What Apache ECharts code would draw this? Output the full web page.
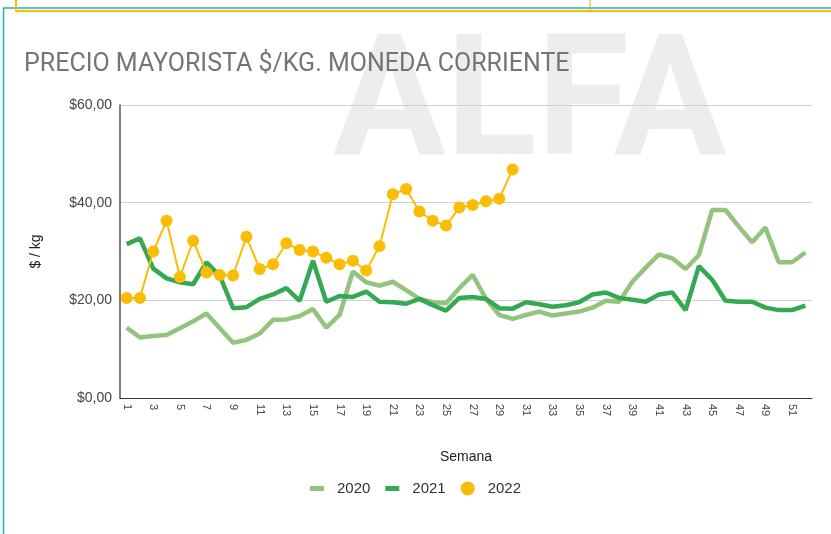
<!DOCTYPE html>
<html>
<head>
<meta charset="utf-8">
<script src="https://cdn.jsdelivr.net/npm/echarts@6/dist/echarts.min.js"></script>
<style>
  html, body { margin: 0; padding: 0; background: #fff; }
  #chart { width: 831px; height: 534px; }
</style>
</head>
<body>
<div id="chart"></div>
<script>
// semanas 1..52
const semanas = [];
for (let i = 1; i <= 52; i++) semanas.push(String(i));

const precio2020 = [14.4, 12.4, 12.7, 12.9, 14.3, 15.7, 17.3, 14.3, 11.3, 11.9,
  13.2, 16.0, 16.1, 16.8, 18.2, 14.4, 17.0, 25.9, 23.7, 23.0,
  23.8, 22.1, 20.3, 19.6, 19.4, 22.5, 25.2, 20.3, 17.0, 16.2,
  17.0, 17.7, 16.9, 17.3, 17.7, 18.5, 19.9, 19.7, 23.8, 26.7,
  29.4, 28.6, 26.4, 29.3, 38.5, 38.5, 35.1, 31.9, 34.9, 27.8,
  27.8, 29.8];

const precio2021 = [31.5, 32.7, 26.5, 24.5, 23.7, 23.3, 27.8, 25.0, 18.4, 18.6,
  20.3, 21.2, 22.5, 19.9, 28.1, 19.7, 20.9, 20.7, 21.8, 19.7,
  19.6, 19.3, 20.3, 19.0, 17.9, 20.5, 20.7, 20.3, 18.4, 18.3,
  19.6, 19.2, 18.7, 19.0, 19.6, 21.2, 21.6, 20.5, 20.1, 19.7,
  21.2, 21.6, 18.0, 27.0, 24.2, 19.9, 19.7, 19.7, 18.5, 18.0,
  18.0, 18.9];

const precio2022 = [20.5, 20.5, 30.0, 36.3, 24.8, 32.2, 25.7, 25.2, 25.1, 33.0,
  26.4, 27.4, 31.7, 30.3, 30.0, 28.7, 27.4, 28.1, 26.1, 31.1,
  41.7, 42.8, 38.2, 36.3, 35.3, 39.0, 39.5, 40.3, 40.8, 46.8];

const chart = echarts.init(document.getElementById("chart"));

chart.setOption({
    backgroundColor: "#fff",
    animation: false,
    title: {
        text: "PRECIO MAYORISTA $/KG. MONEDA CORRIENTE",
        left: 19,
        top: 47,
        textStyle: {
            color: "#757575",
            fontSize: 25,
            fontWeight: "normal",
            fontFamily: "Roboto"
        }
    },
    grid: {
        left: 120,
        right: 19,
        top: 105,
        bottom: 136
    },
    legend: {
        left: "center",
        top: 476,
        itemWidth: 14,
        itemHeight: 14,
        itemGap: 15,
        textStyle: {
            color: "#333",
            fontSize: 15,
            fontFamily: "Liberation Sans",
            padding: [0, 0, 0, 8]
        },
        data: [
            { name: "2020", icon: "path://M0,0H14V5H0Z" },
            { name: "2021", icon: "path://M0,0H14V5H0Z" },
            { name: "2022", icon: "circle" }
        ]
    },
    graphic: [
        // marca de agua
        {
            type: "text",
            left: 333,
            top: 28,
            z: -2,
            style: {
                text: "ALFA",
                fontSize: 168,
                fontWeight: "bold",
                fontFamily: "Roboto",
                fill: "#ededed"
            }
        },
        {
            type: "rect",
            z: -1,
            shape: { x: 300, y: 166, width: 460, height: 240 },
            style: { fill: "#fff" }
        },
        // bordes de la pagina
        {
            type: "line",
            shape: { x1: 3.5, y1: 8, x2: 3.5, y2: 534 },
            style: { stroke: "#1fb3ad", lineWidth: 1.5 }
        },
        {
            type: "line",
            shape: { x1: 3, y1: 8, x2: 831, y2: 8 },
            style: { stroke: "#1fb3ad", lineWidth: 1.5 }
        },
        {
            type: "line",
            shape: { x1: 15, y1: 11, x2: 831, y2: 11 },
            style: { stroke: "#fbbc04", lineWidth: 2 }
        },
        {
            type: "line",
            shape: { x1: 16, y1: 0, x2: 16, y2: 11 },
            style: { stroke: "#fbbc04", lineWidth: 2 }
        },
        {
            type: "line",
            shape: { x1: 590, y1: 0, x2: 590, y2: 11 },
            style: { stroke: "#e0a800", lineWidth: 1 }
        }
    ],
    xAxis: {
        type: "category",
        data: semanas,
        boundaryGap: true,
        name: "Semana",
        nameLocation: "middle",
        nameGap: 52,
        nameTextStyle: {
            color: "#222",
            fontSize: 14,
            fontFamily: "Liberation Sans"
        },
        axisLine: {
            lineStyle: { color: "#333", width: 1 }
        },
        axisTick: { show: false },
        axisLabel: {
            interval: 1,
            rotate: -90,
            margin: 6,
            color: "#444",
            fontSize: 11,
            fontFamily: "Liberation Sans"
        }
    },
    yAxis: {
        type: "value",
        min: 0,
        max: 60,
        interval: 20,
        name: "$ / kg",
        nameLocation: "middle",
        nameGap: 77,
        nameTextStyle: {
            color: "#222",
            fontSize: 14,
            fontFamily: "Liberation Sans"
        },
        axisLine: {
            show: true,
            lineStyle: { color: "#555", width: 1.5 }
        },
        axisTick: { show: false },
        axisLabel: {
            margin: 8,
            color: "#444",
            fontSize: 14,
            fontFamily: "Liberation Sans",
            formatter: function (v) {
                return "$" + v.toFixed(2).replace(".", ",");
            }
        },
        splitLine: {
            lineStyle: { color: "#d0d0d0", width: 1 }
        }
    },
    series: [
        {
            name: "2020",
            type: "line",
            data: precio2020,
            symbol: "none",
            color: "#93c47d",
            lineStyle: { width: 4.5, color: "#93c47d" }
        },
        {
            name: "2021",
            type: "line",
            data: precio2021,
            symbol: "none",
            color: "#34a853",
            lineStyle: { width: 4.5, color: "#34a853" }
        },
        {
            name: "2022",
            type: "line",
            data: precio2022,
            symbol: "circle",
            symbolSize: 12,
            showAllSymbol: true,
            color: "#fbbc04",
            itemStyle: { color: "#fbbc04" },
            lineStyle: { width: 2, color: "#fbbc04" }
        }
    ]
});
</script>
</body>
</html>
